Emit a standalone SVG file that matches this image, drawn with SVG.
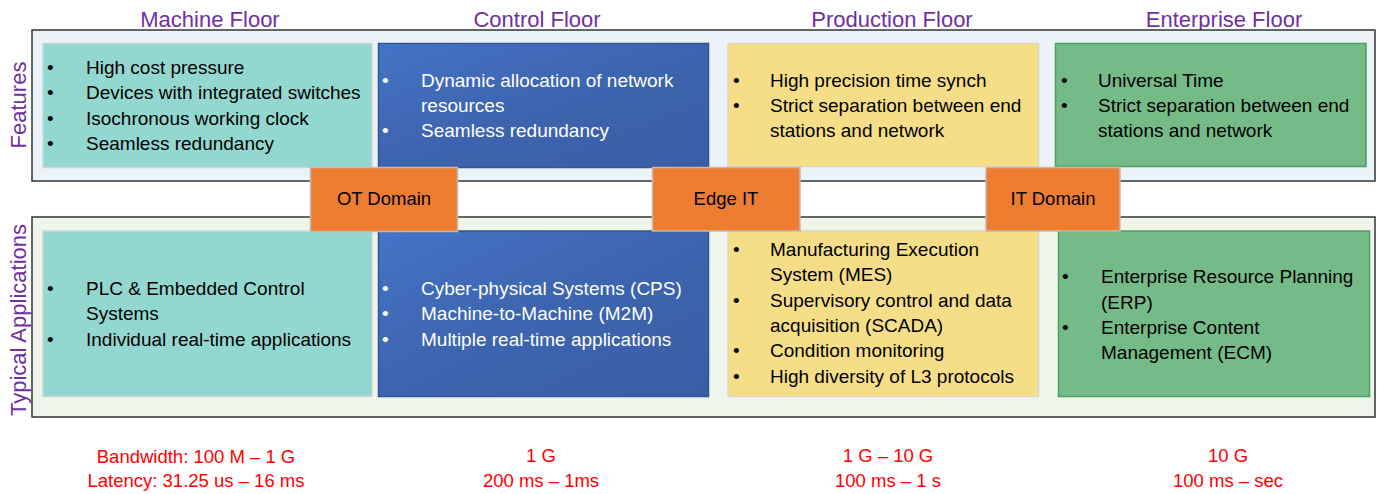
<svg xmlns="http://www.w3.org/2000/svg" width="1377" height="494" viewBox="0 0 1377 494">
<defs>
<linearGradient id="blueGrad" x1="0" y1="0" x2="1" y2="1">
<stop offset="0" stop-color="#4573C6"/>
<stop offset="0.5" stop-color="#3D64AE"/>
<stop offset="1" stop-color="#3A5EA6"/>
</linearGradient>
<style>
text{font-family:"Liberation Sans",Arial,sans-serif;}
.hdr{font-size:22px;fill:#7030A0;text-anchor:middle;}
.side{font-size:22px;fill:#7030A0;text-anchor:middle;}
.body{font-size:19px;fill:#000;}
.wbody{font-size:19px;fill:#fff;}
.dom{font-size:18.5px;fill:#000;text-anchor:middle;}
.red{font-size:18.5px;fill:#FF0000;text-anchor:middle;}
.outerTop{fill:#EBF2F8;stroke:#333;stroke-width:1.5;}
.outerBot{fill:#EFF5EB;stroke:#333;stroke-width:1.5;}
.teal{fill:#92D8D1;stroke:#C8D8D6;stroke-width:1.5;}
.blue{fill:url(#blueGrad);stroke:#2F5597;stroke-width:1.5;}
.yellow{fill:#F6DE88;stroke:#DCD6BE;stroke-width:1.5;}
.green{fill:#75BB88;stroke:#4E9E5E;stroke-width:1.5;}
.orange{fill:#ED7D31;stroke:#C9B8AA;stroke-width:1.5;}
</style>
</defs>
<rect width="1377" height="494" fill="#fff"/>

<g id="headers">
<text class="hdr" x="210" y="27">Machine Floor</text>
<text class="hdr" x="537" y="27">Control Floor</text>
<text class="hdr" x="892" y="27">Production Floor</text>
<text class="hdr" x="1224" y="27">Enterprise Floor</text>
<text class="side" transform="translate(26,105) rotate(-90)">Features</text>
<text class="side" transform="translate(26,320) rotate(-90)">Typical Applications</text>
</g>

<g id="features-row">
<rect class="outerTop" x="32" y="30" width="1343" height="151"/>
</g>
<g id="applications-row">
<rect class="outerBot" x="32" y="217" width="1343" height="200"/>
</g>

<g id="machine-features">
<rect class="teal" x="43" y="43.5" width="329" height="124"/>
<text class="body" x="47" y="74">•</text><text class="body" x="86" y="74">High cost pressure</text>
<text class="body" x="47" y="99.3">•</text><text class="body" x="86" y="99.3">Devices with integrated switches</text>
<text class="body" x="47" y="124.7">•</text><text class="body" x="86" y="124.7">Isochronous working clock</text>
<text class="body" x="47" y="150">•</text><text class="body" x="86" y="150">Seamless redundancy</text>
</g>

<g id="control-features">
<rect class="blue" x="378.5" y="43.5" width="330" height="124"/>
<text class="wbody" x="382" y="87">•</text><text class="wbody" x="421" y="87">Dynamic allocation of network</text>
<text class="wbody" x="421" y="112">resources</text>
<text class="wbody" x="382" y="137.3">•</text><text class="wbody" x="421" y="137.3">Seamless redundancy</text>
</g>

<g id="production-features">
<rect class="yellow" x="728" y="43.5" width="310.5" height="123"/>
<text class="body" x="733" y="87">•</text><text class="body" x="770" y="87">High precision time synch</text>
<text class="body" x="733" y="112">•</text><text class="body" x="770" y="112">Strict separation between end</text>
<text class="body" x="770" y="137.3">stations and network</text>
</g>

<g id="enterprise-features">
<rect class="green" x="1055.5" y="43.5" width="310.5" height="123"/>
<text class="body" x="1061" y="87">•</text><text class="body" x="1098" y="87">Universal Time</text>
<text class="body" x="1061" y="112">•</text><text class="body" x="1098" y="112">Strict separation between end</text>
<text class="body" x="1098" y="137.3">stations and network</text>
</g>

<g id="machine-applications">
<rect class="teal" x="43" y="231" width="329" height="165.5"/>
<text class="body" x="47" y="295">•</text><text class="body" x="86" y="295">PLC &amp; Embedded Control</text>
<text class="body" x="86" y="320.3">Systems</text>
<text class="body" x="47" y="345.7">•</text><text class="body" x="86" y="345.7">Individual real-time applications</text>
</g>

<g id="control-applications">
<rect class="blue" x="378.5" y="231" width="330" height="165.5"/>
<text class="wbody" x="382" y="295">•</text><text class="wbody" x="421" y="295">Cyber-physical Systems (CPS)</text>
<text class="wbody" x="382" y="320.3">•</text><text class="wbody" x="421" y="320.3">Machine-to-Machine (M2M)</text>
<text class="wbody" x="382" y="345.7">•</text><text class="wbody" x="421" y="345.7">Multiple real-time applications</text>
</g>

<g id="production-applications">
<rect class="yellow" x="728" y="231" width="310.5" height="165.5"/>
<text class="body" x="733" y="256">•</text><text class="body" x="770" y="256">Manufacturing Execution</text>
<text class="body" x="770" y="281.3">System (MES)</text>
<text class="body" x="733" y="306.7">•</text><text class="body" x="770" y="306.7">Supervisory control and data</text>
<text class="body" x="770" y="332">acquisition (SCADA)</text>
<text class="body" x="733" y="357.3">•</text><text class="body" x="770" y="357.3">Condition monitoring</text>
<text class="body" x="733" y="382.7">•</text><text class="body" x="770" y="382.7">High diversity of L3 protocols</text>
</g>

<g id="enterprise-applications">
<rect class="green" x="1058.5" y="231" width="311" height="165.5"/>
<text class="body" x="1062" y="283.3">•</text><text class="body" x="1101" y="283.3">Enterprise Resource Planning</text>
<text class="body" x="1101" y="308.7">(ERP)</text>
<text class="body" x="1062" y="334">•</text><text class="body" x="1101" y="334">Enterprise Content</text>
<text class="body" x="1101" y="359.3">Management (ECM)</text>
</g>

<g id="ot-domain">
<rect class="orange" x="310.5" y="167.5" width="147" height="64"/>
<text class="dom" x="384" y="205">OT Domain</text>
</g>
<g id="edge-it">
<rect class="orange" x="652.5" y="167.5" width="147.5" height="63.5"/>
<text class="dom" x="726" y="205">Edge IT</text>
</g>
<g id="it-domain">
<rect class="orange" x="986" y="167.5" width="134" height="63.5"/>
<text class="dom" x="1053" y="205">IT Domain</text>
</g>

<g id="connectors"></g>

<g id="metrics">
<text class="red" x="196" y="463">Bandwidth: 100 M – 1 G</text>
<text class="red" x="196" y="487">Latency: 31.25 us – 16 ms</text>
<text class="red" x="541" y="462">1 G</text>
<text class="red" x="541" y="486.5">200 ms – 1ms</text>
<text class="red" x="888" y="462">1 G – 10 G</text>
<text class="red" x="888" y="486.5">100 ms – 1 s</text>
<text class="red" x="1228" y="462">10 G</text>
<text class="red" x="1228" y="486.5">100 ms – sec</text>
</g>
</svg>
